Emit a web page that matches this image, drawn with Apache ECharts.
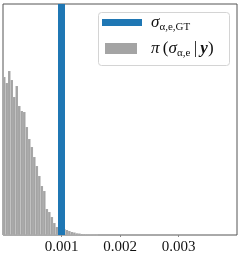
<!DOCTYPE html>
<html><head><meta charset="utf-8">
<script src="https://cdn.jsdelivr.net/npm/echarts@6/dist/echarts.min.js"></script>
<style>html,body{margin:0;padding:0;background:#fff}#c{width:241px;height:257px}</style>
</head><body><div id="c"></div>
<script>
// histogram of posterior samples (relative frequency, arbitrary units)
const binWidth = 0.0000428;
const binHeights = [158, 152, 164, 155, 138, 149, 129, 124, 123, 108,
                    96, 88, 78, 69, 59, 49, 44, 26, 23, 18,
                    12, 8, 6, 6, 6, 5, 4, 3, 2.5, 1.7,
                    1.5, 1, 0.8, 0.6, 0.5, 0.4, 0.3, 0.2];
const gtValue = 0.001;
const xTicks = [0.001, 0.002, 0.003];
const seriesNames = ['σ_GT', 'π_post'];

const yMax = 231;
const histData = binHeights.map((h, i) => [i * binWidth, (i + 1) * binWidth, h]);

const FF = "'Liberation Serif', 'DejaVu Serif', serif";
const rich = {
  m: {fontFamily: FF, fontSize: 17, fontStyle: 'italic', color: '#111', lineHeight: 20, verticalAlign: 'middle'},
  r: {fontFamily: FF, fontSize: 17, color: '#111', lineHeight: 20, verticalAlign: 'middle'},
  b: {fontFamily: FF, fontSize: 17, fontStyle: 'italic', fontWeight: 'bold', color: '#111', lineHeight: 20, verticalAlign: 'middle'},
  s: {fontFamily: FF, fontSize: 11, color: '#111', lineHeight: 20, verticalAlign: 'bottom'}
};

const chart = echarts.init(document.getElementById('c'), null, {renderer: 'canvas'});
chart.setOption({
  animation: false,
  backgroundColor: '#fff',
  grid: {left: 3, right: 4, top: 4, bottom: 22, show: true, borderColor: '#555', borderWidth: 1, backgroundColor: 'transparent'},
  xAxis: {
    type: 'value', min: 0, max: 0.004, interval: 0.001,
    axisLine: {show: false},
    axisTick: {show: true, length: 2, lineStyle: {color: '#888'}},
    splitLine: {show: false},
    axisLabel: {
      showMinLabel: false, showMaxLabel: false, margin: 5,
      fontFamily: FF, fontSize: 15, color: '#111',
      formatter: v => xTicks.some(t => Math.abs(t - v) < 1e-9) ? v.toFixed(3) : ''
    }
  },
  yAxis: {type: 'value', min: 0, max: yMax, show: false},
  graphic: [{
    type: 'rect', z: 100, left: 98, top: 12,
    shape: {width: 131, height: 53, r: 3},
    style: {fill: 'rgba(255,255,255,0.8)', stroke: '#d4d4d4', lineWidth: 1}
  }],
  legend: [
    {
      z: 200, left: 102, top: 14, padding: 0, itemWidth: 40, itemHeight: 7,
      data: [{name: seriesNames[0], icon: 'rect'}],
      formatter: () => '{m|σ}{s|α,e,GT}',
      textStyle: {rich: rich, padding: [0, 0, 0, 4]}
    },
    {
      z: 200, left: 105, top: 40, padding: 0, itemWidth: 32, itemHeight: 11,
      data: [{name: seriesNames[1], icon: 'rect'}],
      formatter: () => '{m|π} {r|(}{m|σ}{s|α,e} {r||} {b|y}{r|)}',
      textStyle: {rich: rich, padding: [0, 0, 0, 9]}
    }
  ],
  series: [
    {
      name: seriesNames[1], type: 'custom', z: 2,
      itemStyle: {color: '#a4a4a4'},
      encode: {x: [0, 1], y: 2},
      data: histData,
      renderItem: (params, api) => {
        const p0 = api.coord([api.value(0), api.value(2)]);
        const p1 = api.coord([api.value(1), 0]);
        return {type: 'rect',
          shape: {x: p0[0], y: p0[1], width: p1[0] - p0[0], height: p1[1] - p0[1]},
          style: {fill: '#a4a4a4', stroke: 'rgba(255,255,255,0.3)', lineWidth: 0.3}};
      }
    },
    {
      name: seriesNames[0], type: 'line', z: 3, symbol: 'none',
      itemStyle: {color: '#1f77b4'},
      lineStyle: {color: '#1f77b4', width: 7},
      data: [[gtValue, 0], [gtValue, yMax]]
    }
  ]
});
</script></body></html>
